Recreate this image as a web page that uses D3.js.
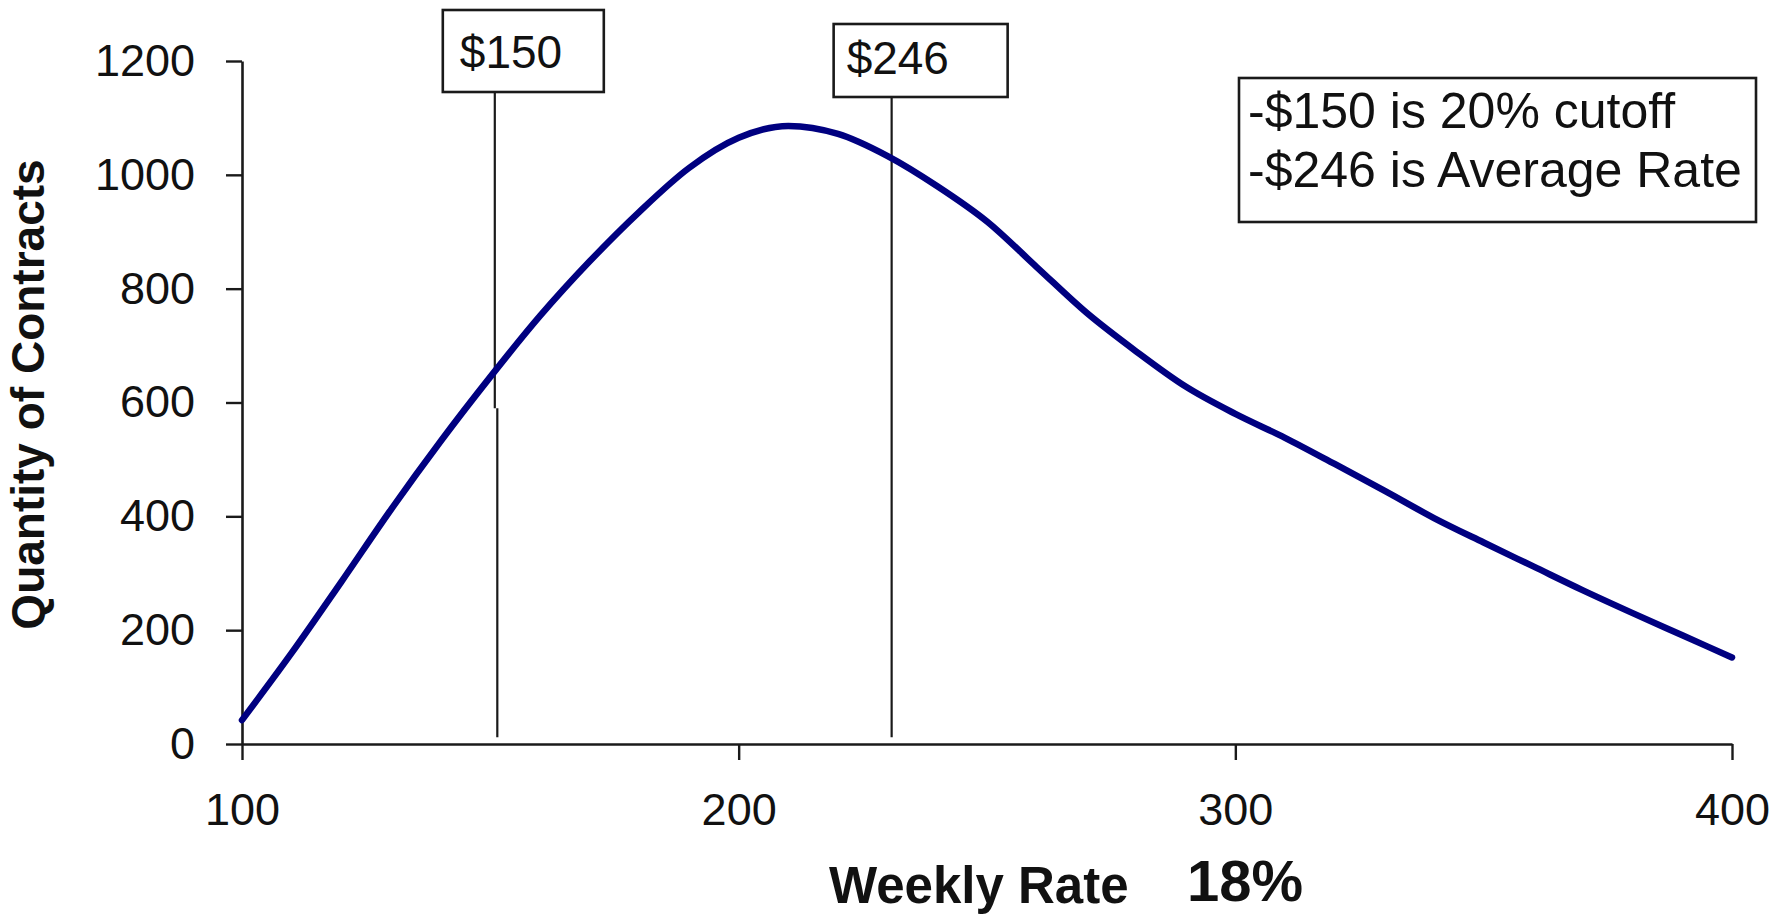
<!DOCTYPE html>
<html><head><meta charset="utf-8">
<script src="https://cdn.jsdelivr.net/npm/d3@7/dist/d3.min.js"></script>
<style>
html,body{margin:0;padding:0;background:#fff;}
svg{display:block;}
text{font-family:"Liberation Sans", Arial, sans-serif;fill:#111;}
</style></head><body>
<svg id="chart" width="1781" height="915"></svg>
<script>
// ---- data ----
const weeklyRate = [100,110,120,130,140,150,160,170,180,190,200,210,220,230,240,250,260,270,280,290,300,310,320,330,340,350,360,370,380,390,400];
const contracts  = [42,160,285,412,532,645,752,848,935,1012,1065,1086,1072,1033,980,918,838,758,690,628,580,538,492,445,397,354,312,270,230,191,152];
const xTicks = [100,200,300,400];
const yTicks = [0,200,400,600,800,1000,1200];
const markerLabels = ["$150","$246"];
const markerRates  = [150.9,230.8];
const legendLines  = ["-$150 is 20% cutoff","-$246 is Average Rate"];
const xTitle = "Weekly Rate";
const xTitleExtra = "18%";
const yTitle = "Quantity of Contracts";

// ---- layout ----
const svg = d3.select("#chart");
const x = d3.scaleLinear().domain([100,400]).range([242,1732]);
const y = d3.scaleLinear().domain([0,1200]).range([744,61]);

// axes
const xAxis = d3.axisBottom(x).tickValues(xTicks).tickSize(16).tickSizeOuter(0).tickPadding(33).tickFormat(d3.format("d"));
const yAxis = d3.axisLeft(y).tickValues(yTicks).tickSize(16).tickSizeOuter(0).tickPadding(31).tickFormat(d3.format("d"));

const gx = svg.append("g").attr("transform",`translate(0,${y(0)})`).call(xAxis);
const gy = svg.append("g").attr("transform",`translate(${x(100)},0)`).call(yAxis);
[gx,gy].forEach(g=>{
  g.select(".domain").attr("stroke","#1a1a1a").attr("stroke-width",2.6);
  g.selectAll(".tick line").attr("stroke","#1a1a1a").attr("stroke-width",2.4);
  g.selectAll(".tick text").attr("font-size",45).attr("fill","#222")
    .attr("font-family",'"Liberation Sans", Arial, sans-serif');
});

// marker lines + boxes
const boxLayout = [
  {left:52,right:109,top:10,bottom:92,textDx:-35,base:68,jog:true},
  {left:58,right:116,top:24,bottom:97,textDx:-45,base:74,jog:false}
];
markerRates.forEach((r,i)=>{
  const lx = x(r), b = boxLayout[i];
  if (b.jog){
    svg.append("line").attr("x1",lx).attr("x2",lx).attr("y1",b.bottom).attr("y2",y(590))
      .attr("stroke","#1a1a1a").attr("stroke-width",2.2);
    svg.append("line").attr("x1",lx+2.5).attr("x2",lx+2.5).attr("y1",y(590)).attr("y2",y(12))
      .attr("stroke","#1a1a1a").attr("stroke-width",2.2);
  } else {
    svg.append("line").attr("x1",lx).attr("x2",lx).attr("y1",b.bottom).attr("y2",y(12))
      .attr("stroke","#1a1a1a").attr("stroke-width",2.2);
  }
  svg.append("rect").attr("x",lx-b.left).attr("y",b.top)
    .attr("width",b.left+b.right).attr("height",b.bottom-b.top)
    .attr("fill","#fff").attr("stroke","#1a1a1a").attr("stroke-width",2.6);
  svg.append("text").attr("x",lx+b.textDx).attr("y",b.base)
    .attr("font-size",46).attr("fill","#222").text(markerLabels[i]);
});

// curve
const pts = weeklyRate.map((r,i)=>[r,contracts[i]]);
svg.append("path").datum(pts)
  .attr("fill","none").attr("stroke","#000080").attr("stroke-width",6.5)
  .attr("stroke-linejoin","round").attr("stroke-linecap","round")
  .attr("d", d3.line().x(d=>x(d[0])).y(d=>y(d[1])).curve(d3.curveMonotoneX));

// legend box
const lg = svg.append("g");
lg.append("rect").attr("x",1239).attr("y",78).attr("width",517).attr("height",144)
  .attr("fill","#fff").attr("stroke","#1a1a1a").attr("stroke-width",2.6);
legendLines.forEach((t,i)=>{
  lg.append("text").attr("x",1248).attr("y",128+i*58.5).attr("font-size",50).attr("fill","#222").text(t);
});

// titles
svg.append("text").attr("transform","translate(44,394.5) rotate(-90)")
  .attr("text-anchor","middle").attr("font-size",46).attr("font-weight","bold").text(yTitle);
svg.append("text").attr("x",829).attr("y",903).attr("font-size",51).attr("font-weight","bold").text(xTitle);
svg.append("text").attr("x",1187).attr("y",901).attr("font-size",58).attr("font-weight","bold").text(xTitleExtra);
</script>
</body></html>
